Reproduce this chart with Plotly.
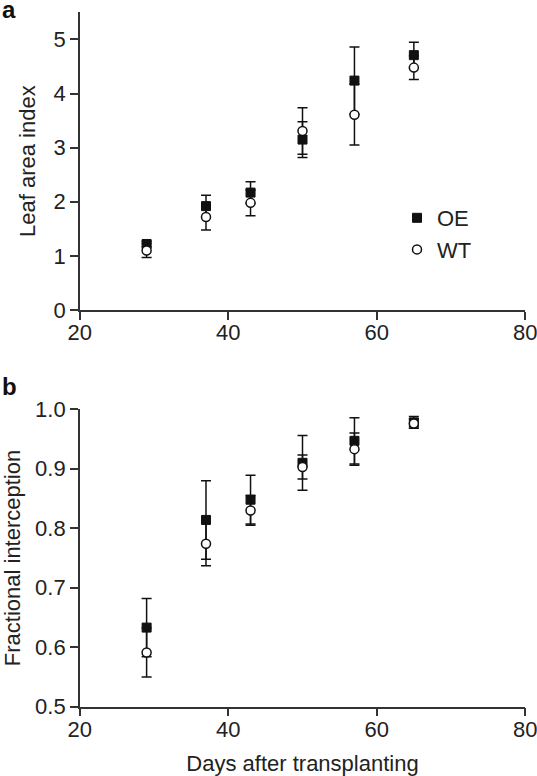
import plotly.graph_objects as go

# ---- data ----
days = [29, 37, 43, 50, 57, 65]

lai_oe = [1.22, 1.92, 2.17, 3.15, 4.24, 4.71]
lai_oe_err = [0.05, 0.20, 0.20, 0.33, 0.62, 0.24]
lai_wt = [1.10, 1.72, 1.98, 3.31, 3.61, 4.48]
lai_wt_err = [0.13, 0.24, 0.24, 0.43, 0.56, 0.22]

fi_oe = [0.633, 0.814, 0.848, 0.910, 0.947, 0.978]
fi_oe_err = [0.049, 0.066, 0.041, 0.046, 0.039, 0.010]
fi_wt = [0.591, 0.774, 0.830, 0.903, 0.933, 0.976]
fi_wt_err = [0.041, 0.037, 0.025, 0.020, 0.027, 0.008]

series_names = ["OE", "WT"]
x_ticks = [20, 40, 60, 80]
lai_ticks = [0, 1, 2, 3, 4, 5]
fi_ticks = [0.5, 0.6, 0.7, 0.8, 0.9, 1.0]
fi_ticklabels = ["0.5", "0.6", "0.7", "0.8", "0.9", "1.0"]

W, H = 537, 776
FONT = "Liberation Sans, Arial, Helvetica, sans-serif"
TXT = "#222222"
AX = "#333333"
FS = 22

fig = go.Figure()

def add_pair(y_oe, e_oe, y_wt, e_wt, xa, ya, showlegend):
    fig.add_trace(go.Scatter(
        x=days, y=y_oe, mode="markers", name=series_names[0],
        xaxis=xa, yaxis=ya, showlegend=showlegend, cliponaxis=False,
        marker=dict(symbol="square", size=9, color="#111111",
                    line=dict(color="#111111", width=1)),
        error_y=dict(type="data", array=e_oe, visible=True,
                     color="#111111", thickness=1.5, width=5),
    ))
    fig.add_trace(go.Scatter(
        x=days, y=y_wt, mode="markers", name=series_names[1],
        xaxis=xa, yaxis=ya, showlegend=showlegend, cliponaxis=False,
        marker=dict(symbol="circle", size=9, color="white",
                    line=dict(color="#111111", width=1.5)),
        error_y=dict(type="data", array=e_wt, visible=True,
                     color="#111111", thickness=1.5, width=5),
    ))

add_pair(lai_oe, lai_oe_err, lai_wt, lai_wt_err, "x", "y", True)
add_pair(fi_oe, fi_oe_err, fi_wt, fi_wt_err, "x2", "y2", False)

x0 = 79.8 / W
x1 = 525.2 / W

common_axis = dict(
    showgrid=False, zeroline=False, showline=True, linecolor=AX, linewidth=1.5,
    ticks="outside", ticklen=8, tickwidth=1.5, tickcolor=AX,
    tickfont=dict(family=FONT, size=FS, color=TXT),
    mirror=False, automargin=False, ticklabeloverflow="allow",
)

fig.update_layout(
    width=W, height=H,
    margin=dict(l=0, r=0, t=0, b=0, autoexpand=False),
    paper_bgcolor="white", plot_bgcolor="white",
    font=dict(family=FONT, size=FS, color=TXT),
    showlegend=True,
    legend=dict(
        x=397 / W, y=1 - 197 / H, xanchor="left", yanchor="top",
        bgcolor="rgba(0,0,0,0)", borderwidth=0,
        font=dict(family=FONT, size=FS, color=TXT),
        itemwidth=30, tracegroupgap=0,
    ),
    xaxis=dict(domain=[x0, x1], anchor="y", range=[20, 80],
               tickvals=x_ticks, ticklabelstandoff=-6, **common_axis),
    yaxis=dict(domain=[1 - 310 / H, 1 - 12.4 / H], anchor="x", range=[0, 5.5],
               tickvals=lai_ticks,
               title=dict(text="Leaf area index", standoff=12,
                          font=dict(family=FONT, size=FS, color=TXT)),
               **common_axis),
    xaxis2=dict(domain=[x0, x1], anchor="y2", range=[20, 80],
                tickvals=x_ticks, ticklabelstandoff=-6,
                title=dict(text="Days after transplanting", standoff=15,
                           font=dict(family=FONT, size=FS, color=TXT)),
                **common_axis),
    yaxis2=dict(domain=[1 - 706.7 / H, 1 - 409.3 / H], anchor="x2", range=[0.5, 1.0],
                tickvals=fi_ticks, ticktext=fi_ticklabels,
                title=dict(text="Fractional interception", standoff=12,
                           font=dict(family=FONT, size=FS, color=TXT)),
                **common_axis),
    annotations=[
        dict(text="<b>a</b>", x=0, y=1 + 6 / H, xref="paper", yref="paper",
             xanchor="left", yanchor="top", showarrow=False,
             font=dict(family=FONT, size=24, color="#111111")),
        dict(text="<b>b</b>", x=0, y=1 - 371 / H, xref="paper", yref="paper",
             xanchor="left", yanchor="top", showarrow=False,
             font=dict(family=FONT, size=24, color="#111111")),
    ],
)

fig.write_html(
    "out.html",
    config={"displayModeBar": False},
    post_script="document.body.style.margin='0';document.body.style.overflow='hidden';",
)
